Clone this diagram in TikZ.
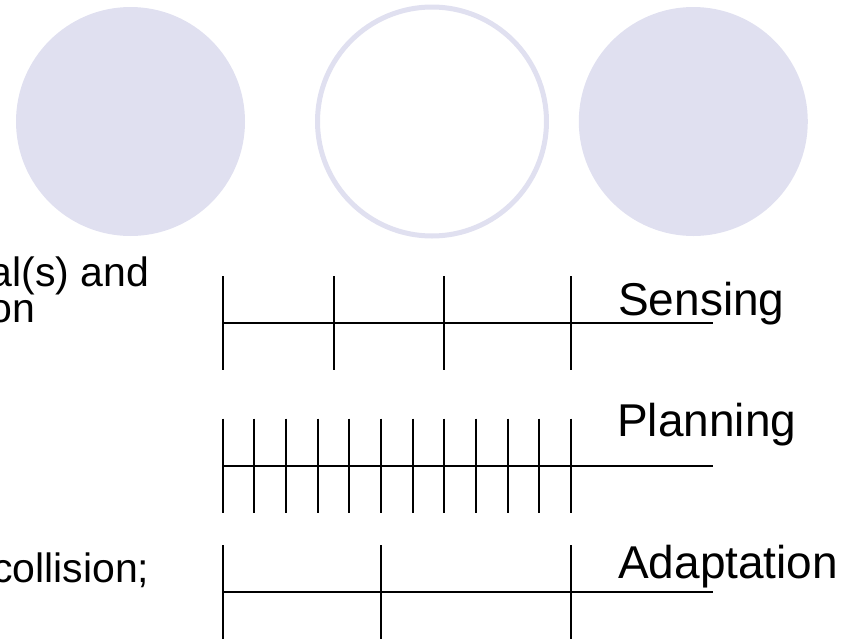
\documentclass[tikz,border=0pt]{standalone}
\usepackage{fontspec}
\setmainfont{Liberation Sans}
\definecolor{lav}{RGB}{224,224,240}
\tikzset{
  disc/.style={circle, fill=lav, draw=none, minimum size=229pt, inner sep=0pt},
  ring/.style={circle, draw=lav, line width=5pt, fill=white, minimum size=229pt, inner sep=0pt},
  tl/.style={line width=2pt, black},
  lbl/.style={inner sep=0pt, font=\fontsize{46}{46}\selectfont, anchor=base west},
  ltxt/.style={inner sep=0pt, font=\fontsize{41}{41}\selectfont, anchor=base east}
}
\begin{document}
\begin{tikzpicture}[x=1pt,y=-1pt]
\useasboundingbox (0,0) rectangle (860,638);
\clip (0,0) rectangle (860,638);
% circles
\node[disc] (c1) at (130.5,121.5) {};
\node[ring] (c2) at (432,121.5) {};
\node[disc] (c3) at (693.3,121.5) {};
% left texts (cropped)
\node[ltxt] (t1) at (149.5,286) {al(s) and};
\node[ltxt] (t2) at (35.5,322) {on};
\node[ltxt] (t3) at (149.5,582) {collision;};
% Sensing
\coordinate (s0) at (222.7,322.7);
\coordinate (s1) at (712.7,322.7);
\draw[tl] (s0) -- (s1);
\foreach \x in {222.7,333.6,444.1,571}
  \draw[tl] (\x,276) -- (\x,370);
\node[lbl] (sens) at (618,315) {Sensing};
% Planning
\coordinate (p0) at (222.7,465.7);
\coordinate (p1) at (712.7,465.7);
\draw[tl] (p0) -- (p1);
\foreach \i in {0,...,11}
  \draw[tl] ({222.7+\i*31.66},418.5) -- ({222.7+\i*31.66},512.7);
\node[lbl] (plan) at (617,436) {Planning};
% Adaptation
\coordinate (a0) at (222.7,592);
\coordinate (a1) at (712.7,592);
\draw[tl] (a0) -- (a1);
\foreach \x in {222.7,381,571}
  \draw[tl] (\x,545) -- (\x,640);
\node[lbl] (adap) at (618,578) {Adaptation};
\end{tikzpicture}
\end{document}
